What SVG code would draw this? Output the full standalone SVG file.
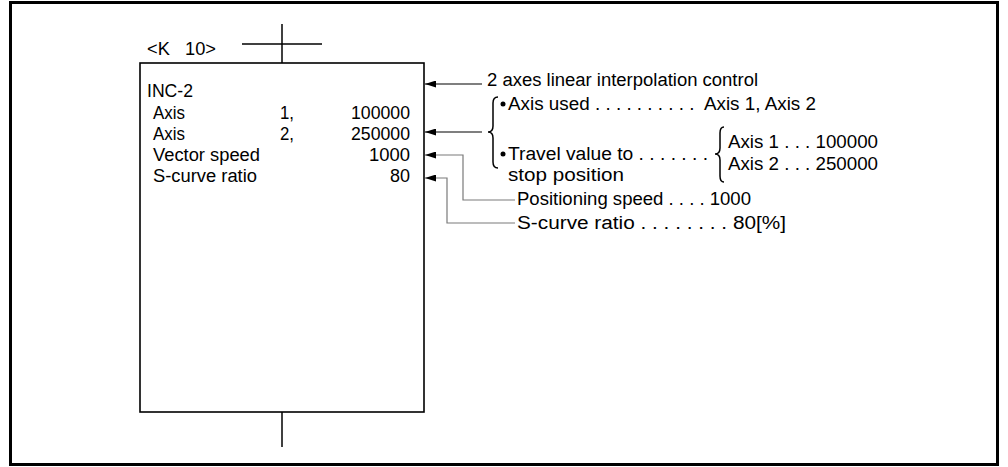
<svg xmlns="http://www.w3.org/2000/svg" width="1008" height="467" viewBox="0 0 1008 467">
  <style>
    text { font-family: "Liberation Sans", Arial, sans-serif; font-size: 18px; fill: #000; white-space: pre; }
    .end { text-anchor: end; }
    .frame { fill: none; stroke: #000; stroke-width: 3; }
    .box { fill: #fff; stroke: #000; stroke-width: 1.6; }
    .wire { fill: none; stroke: #000; stroke-width: 1.5; }
    .conn { fill: none; stroke: #000; stroke-width: 1.2; }
    .conn.gray { stroke: #7a7a7a; }
    .brace { fill: none; stroke: #000; stroke-width: 1.5; }
  </style>
  <defs>
    <marker id="arrow" viewBox="0 0 11 7" refX="11" refY="3.5" markerWidth="11" markerHeight="7" markerUnits="userSpaceOnUse" orient="auto">
      <path d="M0,0 L11,3.5 L0,7 z" fill="#000"/>
    </marker>
  </defs>

  <rect class="frame" x="10.5" y="2.5" width="987" height="462"/>

  <g id="instruction-box">
    <line class="wire" x1="282" y1="24" x2="282" y2="63"/>
    <line class="wire" x1="242" y1="44" x2="322" y2="44"/>
    <line class="wire" x1="282" y1="412" x2="282" y2="447"/>
    <text x="147" y="55" textLength="69" lengthAdjust="spacingAndGlyphs">&lt;K   10&gt;</text>
    <rect class="box" x="140" y="63" width="284" height="349"/>
    <text x="147" y="97" textLength="46" lengthAdjust="spacingAndGlyphs">INC-2</text>
    <text x="153" y="118.5" textLength="32" lengthAdjust="spacingAndGlyphs">Axis</text>
    <text x="280" y="118.5" textLength="14" lengthAdjust="spacingAndGlyphs">1,</text>
    <text class="end" x="410" y="118.5" textLength="59" lengthAdjust="spacingAndGlyphs">100000</text>
    <text x="153" y="139.5" textLength="32" lengthAdjust="spacingAndGlyphs">Axis</text>
    <text x="280" y="139.5" textLength="14" lengthAdjust="spacingAndGlyphs">2,</text>
    <text class="end" x="410" y="139.5" textLength="59" lengthAdjust="spacingAndGlyphs">250000</text>
    <text x="153" y="160.5" textLength="107" lengthAdjust="spacingAndGlyphs">Vector speed</text>
    <text class="end" x="410" y="160.5" textLength="41" lengthAdjust="spacingAndGlyphs">1000</text>
    <text x="153" y="181.5" textLength="104" lengthAdjust="spacingAndGlyphs">S-curve ratio</text>
    <text class="end" x="410" y="181.5" textLength="20" lengthAdjust="spacingAndGlyphs">80</text>
  </g>

  <g id="connectors">
    <path class="conn" d="M482,84 H425" marker-end="url(#arrow)"/>
    <path class="conn" d="M482,132 H425" marker-end="url(#arrow)"/>
    <path class="conn gray" d="M515,200 H463 V155 H425" marker-end="url(#arrow)"/>
    <path class="conn gray" d="M515,223 H447 V178 H425" marker-end="url(#arrow)"/>
  </g>

  <g id="label-control">
    <text x="487" y="86" textLength="271" lengthAdjust="spacingAndGlyphs">2 axes linear interpolation control</text>
  </g>

  <g id="label-axis-travel">
    <path class="brace" d="M498,97 Q493,97 493,103 L493,126 Q493,132 488,132 Q493,132 493,138 L493,162 Q493,168 498,168"/>
    <circle cx="503" cy="104" r="2.5" fill="#000"/>
    <text x="508" y="110" textLength="308" lengthAdjust="spacingAndGlyphs">Axis used . . . . . . . . . .  Axis 1, Axis 2</text>
    <circle cx="503" cy="154" r="2.5" fill="#000"/>
    <text x="508" y="160" textLength="200" lengthAdjust="spacingAndGlyphs">Travel value to . . . . . . .</text>
    <text x="508" y="181" textLength="116" lengthAdjust="spacingAndGlyphs">stop position</text>
    <path class="brace" d="M724,127 Q720,127 720,133 L720,148 Q720,154 715,154 Q720,154 720,160 L720,176 Q720,182 724,182"/>
    <text x="728" y="148" textLength="150" lengthAdjust="spacingAndGlyphs">Axis 1 . . . 100000</text>
    <text x="728" y="170" textLength="150" lengthAdjust="spacingAndGlyphs">Axis 2 . . . 250000</text>
  </g>

  <g id="label-speed">
    <text x="517" y="205" textLength="234" lengthAdjust="spacingAndGlyphs">Positioning speed . . . . 1000</text>
  </g>

  <g id="label-scurve">
    <text x="517" y="229" textLength="269" lengthAdjust="spacingAndGlyphs">S-curve ratio . . . . . . . . 80[%]</text>
  </g>
</svg>
